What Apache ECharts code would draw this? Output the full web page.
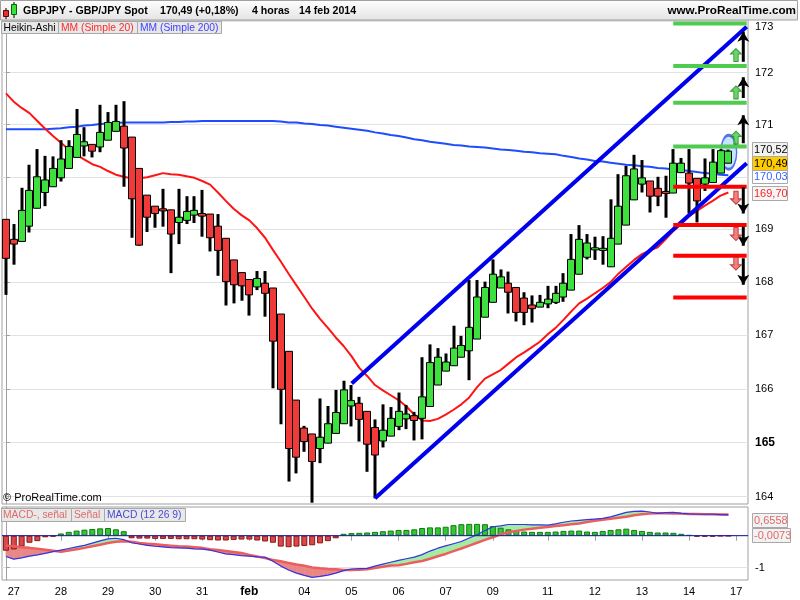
<!DOCTYPE html>
<html><head><meta charset="utf-8">
<script src="https://cdn.jsdelivr.net/npm/echarts@6/dist/echarts.min.js"></script>
<style>html,body{margin:0;padding:0;background:#fff}#c{width:800px;height:600px}</style>
</head><body><div id="c"></div>
<script>
// ---------- DATA (Heikin-Ashi 4h candles, GBP/JPY) ----------
const haOpen = [169.19,168.81,168.77,169.06,169.40,169.70,169.81,169.98,170.16,170.37,170.59,170.62,170.57,170.70,170.87,170.97,170.76,170.16,169.65,169.44,169.39,169.37,169.13,169.17,169.27,169.30,169.29,169.06,168.83,168.42,168.18,168.05,167.91,167.98,167.89,167.40,166.70,165.79,165.27,165.16,164.89,164.99,165.17,165.35,165.68,165.73,165.58,165.28,165.03,165.12,165.30,165.44,165.50,165.45,165.67,166.07,166.33,166.43,166.59,166.71,166.93,167.34,167.62,167.89,167.98,167.90,167.70,167.57,167.53,167.59,167.62,167.72,167.85,168.15,168.47,168.61,168.60,168.29,168.72,169.08,169.56,169.86,169.92,169.78,169.72,169.69,170.08,170.07,169.97,169.86,169.89,170.07,170.26];
const haClose = [168.45,168.72,169.36,169.74,170.00,169.94,170.16,170.34,170.58,170.81,170.67,170.49,170.85,171.04,171.06,170.55,169.58,168.70,169.23,169.30,169.35,168.91,169.23,169.34,169.36,169.25,168.84,168.60,168.01,167.95,167.93,167.76,168.07,167.79,166.89,165.99,164.89,164.73,165.02,164.65,165.10,165.35,165.56,165.98,165.78,165.43,164.97,164.77,165.23,165.45,165.58,165.53,165.41,165.85,166.49,166.59,166.50,166.76,166.81,167.15,167.72,167.90,168.15,168.10,167.81,167.43,167.43,167.50,167.62,167.68,167.79,167.98,168.43,168.81,168.74,168.65,168.64,168.83,169.44,170.02,170.15,169.98,169.63,169.63,169.69,170.26,170.26,169.88,169.54,169.98,170.28,170.50,170.49];
const haLow = [167.76,168.33,168.77,168.94,169.40,169.44,169.81,169.91,170.16,170.37,170.39,170.37,170.47,170.70,170.87,169.81,168.84,168.69,168.95,169.03,169.05,168.17,168.72,169.10,169.12,168.86,168.58,168.12,167.56,167.60,167.65,167.37,167.85,167.35,166.01,165.34,164.28,164.43,164.83,163.89,164.62,164.99,165.17,165.35,165.30,165.02,164.46,163.97,164.91,165.12,165.23,165.25,165.04,165.06,165.67,166.07,166.33,166.43,166.59,166.16,166.93,167.34,167.62,167.89,167.41,167.26,167.19,167.24,167.53,167.51,167.59,167.63,167.85,168.15,168.43,168.42,168.33,168.29,168.72,169.08,169.56,169.70,169.32,169.44,169.22,169.69,170.07,169.30,169.13,169.73,169.89,170.07,170.26];
const haHigh = [169.19,169.10,169.79,170.23,170.53,170.40,170.39,170.70,170.70,171.30,170.95,170.62,171.38,171.24,171.38,171.45,170.76,170.16,169.65,169.44,169.77,169.37,169.77,169.63,169.63,169.75,169.29,169.29,168.83,168.42,168.18,168.05,168.21,168.21,167.89,167.40,166.70,165.79,165.31,165.16,165.82,165.68,165.98,166.15,166.07,165.85,165.58,165.43,165.71,165.66,165.93,165.70,165.57,166.59,166.83,166.76,166.66,167.18,166.99,168.04,168.04,168.01,168.43,168.24,168.20,167.90,167.81,167.75,167.76,167.93,167.93,168.17,168.91,169.08,168.91,168.86,168.87,169.57,170.05,170.21,170.42,170.32,169.92,170.00,170.02,170.53,170.36,170.53,169.97,170.35,170.53,170.53,170.52];
const ma20 = [171.60,171.44,171.32,171.22,171.07,170.92,170.78,170.65,170.52,170.42,170.33,170.24,170.19,170.11,170.04,170.00,169.97,169.97,169.99,170.03,170.07,170.05,170.04,170.01,169.98,169.92,169.85,169.70,169.54,169.39,169.27,169.17,169.02,168.84,168.61,168.39,168.16,167.94,167.72,167.50,167.31,167.14,166.96,166.80,166.61,166.39,166.24,166.07,165.97,165.88,165.79,165.67,165.52,165.41,165.40,165.44,165.52,165.61,165.71,165.84,166.03,166.19,166.27,166.35,166.47,166.59,166.68,166.78,166.88,167.02,167.14,167.29,167.45,167.60,167.69,167.79,167.89,168.00,168.16,168.29,168.42,168.53,168.60,168.66,168.81,168.97,169.10,169.25,169.35,169.45,169.54,169.64,169.70];
const ma200 = [170.91,170.91,170.91,170.91,170.91,170.91,170.92,170.93,170.95,170.96,170.98,170.99,171.01,171.02,171.03,171.04,171.04,171.04,171.04,171.04,171.04,171.05,171.05,171.06,171.06,171.07,171.07,171.07,171.07,171.07,171.07,171.07,171.07,171.07,171.07,171.06,171.04,171.04,171.02,171.01,170.99,170.98,170.96,170.94,170.92,170.90,170.88,170.85,170.83,170.80,170.78,170.75,170.72,170.70,170.67,170.65,170.63,170.61,170.60,170.58,170.57,170.56,170.54,170.52,170.51,170.50,170.48,170.47,170.45,170.44,170.43,170.40,170.38,170.35,170.33,170.30,170.29,170.27,170.25,170.23,170.22,170.20,170.19,170.17,170.16,170.14,170.13,170.11,170.09,170.07,170.06,170.04,170.03];
const macdLine = [-0.65,-0.73,-0.69,-0.64,-0.60,-0.55,-0.50,-0.45,-0.40,-0.35,-0.30,-0.23,-0.16,-0.10,-0.08,-0.12,-0.22,-0.26,-0.30,-0.33,-0.35,-0.37,-0.38,-0.39,-0.41,-0.42,-0.45,-0.51,-0.57,-0.59,-0.62,-0.64,-0.66,-0.67,-0.80,-0.95,-1.07,-1.17,-1.24,-1.30,-1.27,-1.23,-1.17,-1.09,-1.04,-1.03,-1.02,-0.95,-0.89,-0.83,-0.77,-0.72,-0.67,-0.59,-0.48,-0.39,-0.32,-0.25,-0.18,-0.07,0.03,0.16,0.28,0.31,0.35,0.35,0.35,0.34,0.34,0.33,0.37,0.42,0.46,0.48,0.50,0.52,0.54,0.59,0.66,0.73,0.76,0.77,0.74,0.70,0.72,0.73,0.70,0.68,0.67,0.67,0.67,0.66,0.65];
const signalLine = [-0.31,-0.33,-0.36,-0.38,-0.41,-0.44,-0.47,-0.50,-0.46,-0.42,-0.38,-0.33,-0.28,-0.23,-0.19,-0.17,-0.19,-0.23,-0.25,-0.27,-0.29,-0.31,-0.33,-0.34,-0.36,-0.38,-0.42,-0.45,-0.48,-0.51,-0.54,-0.60,-0.65,-0.70,-0.76,-0.80,-0.85,-0.90,-0.94,-0.99,-1.02,-1.04,-1.05,-1.07,-1.07,-1.06,-1.05,-1.01,-0.97,-0.93,-0.92,-0.88,-0.83,-0.79,-0.72,-0.64,-0.57,-0.48,-0.40,-0.31,-0.22,-0.13,-0.05,0.04,0.11,0.15,0.19,0.22,0.25,0.27,0.30,0.33,0.36,0.38,0.43,0.47,0.50,0.53,0.56,0.59,0.64,0.67,0.69,0.70,0.70,0.69,0.69,0.68,0.68,0.67,0.67,0.66,0.66];
const macdHist = [-0.47,-0.43,-0.34,-0.22,-0.17,-0.05,-0.03,0.07,0.12,0.16,0.19,0.21,0.23,0.24,0.20,0.14,-0.08,-0.09,-0.09,-0.10,-0.10,-0.10,-0.11,-0.11,-0.11,-0.12,-0.14,-0.15,-0.15,-0.13,-0.12,-0.12,-0.15,-0.18,-0.22,-0.34,-0.36,-0.34,-0.32,-0.30,-0.24,-0.17,-0.08,0.06,0.08,0.09,0.10,0.12,0.14,0.16,0.18,0.18,0.20,0.24,0.26,0.26,0.28,0.33,0.36,0.37,0.37,0.36,0.30,0.25,0.20,0.16,0.13,0.12,0.12,0.12,0.13,0.15,0.16,0.16,0.13,0.12,0.15,0.18,0.20,0.22,0.18,0.15,0.12,0.10,0.10,0.09,0.06,0.02,-0.03,-0.03,-0.03,-0.01,-0.01];
const xLabelIdx  = [1,7,13,19,25,31,38,44,50,56,62,69,75,81,87,93];
const xLabelText = ['27','28','29','30','31','feb','04','05','06','07','09','11','12','13','14','17'];
const priceTicks = [164,165,166,167,168,169,170,171,172,173];
const macdTicks = [-1];
const macdZero = 0;
// drawn annotations
const channelUpper = [[44.03,166.10],[94.33,172.89]];
const channelLower = [[47.00,163.97],[94.33,170.26]];
const levelSpan = [84.98, 94.33];
const greenLevels = [172.95,172.13,171.42,170.58];
const redLevels = [169.81,169.08,168.50,167.71];
const arrowX = 93.9;
const upArrows = [[172.21,172.79],[171.51,171.91],[170.64,171.18]];
const downArrows = [[169.80,169.30],[169.05,168.69],[168.45,167.95]];
const markX = 92.97;
const greenMarks = [172.34,171.62,170.75];
const redMarks = [169.60,168.91,168.35];
const ellipseAt = [92.04,170.47];

// ---------- CHART ----------
const FONT = '"Liberation Sans", Arial, sans-serif';
const L = p => Math.log(p);
const chart = echarts.init(document.getElementById('c'));
const xmin = -0.5, xmax = 94.5;

function candleRender(params, api) {
  const i = api.value(0);
  const o = api.value(1), c = api.value(2), lo = api.value(3), hi = api.value(4);
  const pH = api.coord([i, hi]), pL = api.coord([i, lo]);
  const pO = api.coord([i, o]), pC = api.coord([i, c]);
  const x = Math.round(pO[0]);
  const top = Math.min(pO[1], pC[1]), bot = Math.max(pO[1], pC[1]);
  return {type:'group', children:[
    {type:'rect', shape:{x:x-1.5, y:pH[1], width:3, height:Math.max(pL[1]-pH[1],1)}, style:{fill:'#000'}},
    {type:'rect', shape:{x:x-3.5, y:top, width:7, height:Math.max(bot-top,2)},
     style:{fill: c >= o ? '#3ee03e' : '#f03a3a', stroke:'#000', lineWidth:1}}
  ]};
}
function fillRender(params, api) {
  const i = api.value(0), m0 = api.value(1), s0 = api.value(2), m1 = api.value(3), s1 = api.value(4);
  const d0 = m0 - s0, d1 = m1 - s1;
  const G = '#a4eba4', R = '#e98686';
  const P = (x, y) => api.coord([x, y]);
  if ((d0 >= 0) === (d1 >= 0)) {
    const col = (d0 + d1) >= 0 ? G : R;
    return {type:'polygon', shape:{points:[P(i,m0),P(i+1,m1),P(i+1,s1),P(i,s0)]}, style:{fill:col, stroke:col, lineWidth:0.6}};
  }
  const t = d0 / (d0 - d1), xc = i + t, yc = m0 + t * (m1 - m0);
  const c0 = d0 >= 0 ? G : R, c1 = d1 >= 0 ? G : R;
  return {type:'group', children:[
    {type:'polygon', shape:{points:[P(i,m0),P(xc,yc),P(i,s0)]}, style:{fill:c0, stroke:c0, lineWidth:0.6}},
    {type:'polygon', shape:{points:[P(xc,yc),P(i+1,m1),P(i+1,s1)]}, style:{fill:c1, stroke:c1, lineWidth:0.6}}
  ]};
}

const labMap = {}; xLabelIdx.forEach((v, k) => labMap[v] = xLabelText[k]);
const candleData = haOpen.map((o, i) => [i, L(o), L(haClose[i]), L(haLow[i]), L(haHigh[i])]);
const fillData = macdLine.slice(0, -1).map((m, i) => [i, m, signalLine[i], macdLine[i+1], signalLine[i+1]]);

const series = [];
series.push({type:'line', xAxisIndex:0, yAxisIndex:0, data: ma200.map((v,i)=>[i,L(v)]), showSymbol:false, lineStyle:{color:'#1f4cff', width:2}, z:2, silent:true});
series.push({type:'line', xAxisIndex:0, yAxisIndex:0, data: ma20.map((v,i)=>[i,L(v)]), showSymbol:false, lineStyle:{color:'#ff1414', width:2}, z:2, silent:true});
series.push({type:'scatter', xAxisIndex:0, yAxisIndex:0, data:[[ellipseAt[0], L(ellipseAt[1])]], symbol:'circle', symbolSize:[16,34], itemStyle:{color:'#b9dcff', borderColor:'#2f52ee', borderWidth:2}, z:3, silent:true});
series.push({type:'custom', xAxisIndex:0, yAxisIndex:0, data:candleData, renderItem:candleRender, encode:{x:0, y:[1,2,3,4]}, z:4, silent:true});
[channelUpper, channelLower].forEach(ch => series.push({type:'line', xAxisIndex:0, yAxisIndex:0, data: ch.map(p=>[p[0],L(p[1])]), showSymbol:false, lineStyle:{color:'#0000ee', width:4}, z:5, silent:true}));
greenLevels.forEach(v => series.push({type:'line', xAxisIndex:0, yAxisIndex:0, data:[[levelSpan[0],L(v)],[levelSpan[1],L(v)]], showSymbol:false, lineStyle:{color:'#4fcc4f', width:4}, z:5, silent:true}));
redLevels.forEach(v => series.push({type:'line', xAxisIndex:0, yAxisIndex:0, data:[[levelSpan[0],L(v)],[levelSpan[1],L(v)]], showSymbol:false, lineStyle:{color:'#ff0000', width:4}, z:5, silent:true}));
upArrows.forEach(a => series.push({type:'line', xAxisIndex:0, yAxisIndex:0,
  data:[{value:[arrowX,L(a[0])], symbol:'none'},{value:[arrowX,L(a[1])], symbol:'arrow', symbolSize:[9,10], symbolRotate:0}],
  showSymbol:true, showAllSymbol:true, itemStyle:{color:'#000'}, lineStyle:{color:'#000', width:3}, z:6, silent:true}));
downArrows.forEach(a => series.push({type:'line', xAxisIndex:0, yAxisIndex:0,
  data:[{value:[arrowX,L(a[0])], symbol:'none'},{value:[arrowX,L(a[1])], symbol:'arrow', symbolSize:[9,10], symbolRotate:180}],
  showSymbol:true, showAllSymbol:true, itemStyle:{color:'#000'}, lineStyle:{color:'#000', width:3}, z:6, silent:true}));
const fatArrow = 'path://M5,0 L10,5 L7,5 L7,12 L3,12 L3,5 L0,5 Z';
series.push({type:'scatter', xAxisIndex:0, yAxisIndex:0, data: greenMarks.map(v=>[markX,L(v)]), symbol:fatArrow, symbolSize:[11,13], itemStyle:{color:'#45c845', borderColor:'#1f8a1f', borderWidth:1}, z:6, silent:true});
series.push({type:'scatter', xAxisIndex:0, yAxisIndex:0, data: redMarks.map(v=>[markX,L(v)]), symbol:fatArrow, symbolRotate:180, symbolSize:[11,13], itemStyle:{color:'#f06060', borderColor:'#b02020', borderWidth:1}, z:6, silent:true});
series.push({type:'custom', xAxisIndex:1, yAxisIndex:1, data:fillData, renderItem:fillRender, encode:{x:0, y:[1,2]}, z:1, silent:true});
series.push({type:'bar', xAxisIndex:1, yAxisIndex:1, barWidth:6, z:2, silent:true,
  data: macdHist.map((v,i)=>({value:[i,v], itemStyle: v>=0 ? {color:'#34c634', borderColor:'#0d7d0d', borderWidth:1} : {color:'#d84a4a', borderColor:'#8c1414', borderWidth:1}}))});
series.push({type:'line', xAxisIndex:1, yAxisIndex:1, data: signalLine.map((v,i)=>[i,v]), showSymbol:false, lineStyle:{color:'#ec5e5e', width:2.5}, z:3, silent:true});
series.push({type:'line', xAxisIndex:1, yAxisIndex:1, data: macdLine.map((v,i)=>[i,v]), showSymbol:false, lineStyle:{color:'#3434e6', width:1.2}, z:3, silent:true});
series.push({type:'line', xAxisIndex:1, yAxisIndex:1, data: [[xmin,macdZero],[xmax,macdZero]], showSymbol:false, lineStyle:{color:'#1a1aa8', width:1}, z:4, silent:true});

const txt = (x, y, text, opt) => ({type:'text', z:100, x, y, style:Object.assign({text, font:'11px '+FONT, fill:'#000', textVerticalAlign:'middle'}, opt||{})});
const box = (x, y, w, h, fill, stroke) => ({type:'rect', z:99, shape:{x, y, width:w, height:h}, style:{fill, stroke: stroke||'#a8a8a8', lineWidth:1}});
const TF = 'bold 10.6px ' + FONT, LF = '10.3px ' + FONT;

const graphic = [
  {type:'rect', z:98, shape:{x:0.5, y:0.5, width:797, height:19.5}, style:{fill:new echarts.graphic.LinearGradient(0,0,0,1,[{offset:0,color:'#ffffff'},{offset:1,color:'#e3e3e3'}]), stroke:'#a0a0a0', lineWidth:1}},
  {type:'rect', z:100, shape:{x:5.5, y:8, width:1, height:11}, style:{fill:'#000'}},
  {type:'rect', z:101, shape:{x:3.5, y:10.5, width:5, height:6}, style:{fill:'#e03030', stroke:'#600', lineWidth:1}},
  {type:'rect', z:100, shape:{x:13.5, y:2, width:1, height:16}, style:{fill:'#000'}},
  {type:'rect', z:101, shape:{x:11.5, y:4.5, width:5, height:10}, style:{fill:'#3ee03e', stroke:'#060', lineWidth:1}},
  txt(23, 11, 'GBPJPY - GBP/JPY Spot', {font:TF}),
  txt(160, 11, '170,49 (+0,18%)', {font:TF}),
  txt(252, 11, '4 horas', {font:TF}),
  txt(299, 11, '14 feb 2014', {font:TF}),
  txt(796, 11, 'www.ProRealTime.com', {font:'bold 11.7px '+FONT, textAlign:'right'}),
  box(1.5, 21.5, 57, 12, '#e8e8e8'), txt(3.5, 28, 'Heikin-Ashi', {font:LF}),
  box(58.5, 21.5, 79, 12, '#e8e8e8'), txt(61, 28, 'MM (Simple 20)', {font:LF, fill:'#ff2a2a'}),
  box(137.5, 21.5, 84, 12, '#e8e8e8'), txt(140, 28, 'MM (Simple 200)', {font:LF, fill:'#3f3fff'}),
  txt(3, 498, '© ProRealTime.com', {font:'11px '+FONT}),
  box(1.5, 508.5, 70, 13, '#e8e8e8'), txt(3, 515.5, 'MACD-, señal', {font:LF, fill:'#e06a6a'}),
  box(71.5, 508.5, 33, 13, '#e8e8e8'), txt(74, 515.5, 'Señal', {font:LF, fill:'#e06a6a'}),
  box(104.5, 508.5, 81, 13, '#e8e8e8'), txt(107, 515.5, 'MACD (12 26 9)', {font:LF, fill:'#4a4ad6'}),
  box(752.5, 142.5, 35, 14, '#f2f2f2'), txt(754, 150, '170,52', {font:'11px '+FONT}),
  box(752.5, 156.5, 35, 14, '#ffcc00'), txt(754, 164, '170,49', {font:'11px '+FONT}),
  box(752.5, 170.5, 35, 13, '#ffffff'), txt(754, 177, '170,03', {font:'11px '+FONT, fill:'#3a62ff'}),
  box(752.5, 186.5, 35, 14, '#f6f6f6'), txt(754, 193.5, '169,70', {font:'11px '+FONT, fill:'#ff2020'}),
  box(752.5, 513.5, 35, 14, '#f2f2f2'), txt(754, 521, '0,6558', {font:'11px '+FONT, fill:'#e06a6a'}),
  box(752.5, 528.5, 38, 14, '#f2f2f2'), txt(754, 536, '-0,0073', {font:'11px '+FONT, fill:'#e06a6a'})
];

const axisGray = '#a0a0a0';
chart.setOption({
  animation:false,
  backgroundColor:'#fff',
  textStyle:{fontFamily:FONT},
  grid:[
    {left:2, right:52, top:20, bottom:96, show:true, borderColor:axisGray, borderWidth:1},
    {left:2, right:52, top:507, height:73, show:true, borderColor:axisGray, borderWidth:1}
  ],
  xAxis:[
    {type:'value', gridIndex:0, min:xmin, max:xmax, show:false},
    {type:'value', gridIndex:1, min:xmin, max:xmax,
     axisLine:{show:true, lineStyle:{color:axisGray}},
     axisTick:{show:true, customValues:xLabelIdx, length:5, lineStyle:{color:axisGray}},
     splitLine:{show:false},
     axisLabel:{customValues:xLabelIdx, color:'#000', fontSize:11, margin:6, fontFamily:FONT,
       formatter: v => { const t = labMap[Math.round(v)] || ''; return t === 'feb' ? '{b|feb}' : t; },
       rich:{b:{fontWeight:'bold', fontSize:12, fontFamily:FONT, color:'#000'}}}}
  ],
  yAxis:[
    {type:'value', gridIndex:0, position:'right', min:L(163.866), max:L(173.02), scale:true,
     axisLine:{show:true, lineStyle:{color:axisGray}},
     axisTick:{show:true, customValues:priceTicks.map(L), length:4, lineStyle:{color:axisGray}},
     splitLine:{show:true, lineStyle:{color:'#e2e2e2', width:1}},
     axisLabel:{customValues:priceTicks.map(L), color:'#000', fontSize:11, margin:7, fontFamily:FONT,
       formatter: v => { const p = Math.round(Math.exp(v)); return p === 165 ? '{b|165}' : (p === 173 ? '{t|173}' : String(p)); },
       rich:{b:{fontWeight:'bold', fontSize:12, fontFamily:FONT, color:'#000'},
             t:{fontSize:11, fontFamily:FONT, color:'#000', padding:[12,0,0,0]}}}},
    {type:'value', gridIndex:1, position:'right', min:-1.384, max:0.897,
     axisLine:{show:true, lineStyle:{color:axisGray}},
     axisTick:{show:true, customValues:macdTicks, length:4, lineStyle:{color:axisGray}},
     splitLine:{show:true, lineStyle:{color:'#e2e2e2', width:1}},
     axisLabel:{customValues:macdTicks, color:'#000', fontSize:11, margin:7, fontFamily:FONT, formatter: v => String(Math.round(v))}}
  ],
  series,
  graphic
});
</script></body></html>
